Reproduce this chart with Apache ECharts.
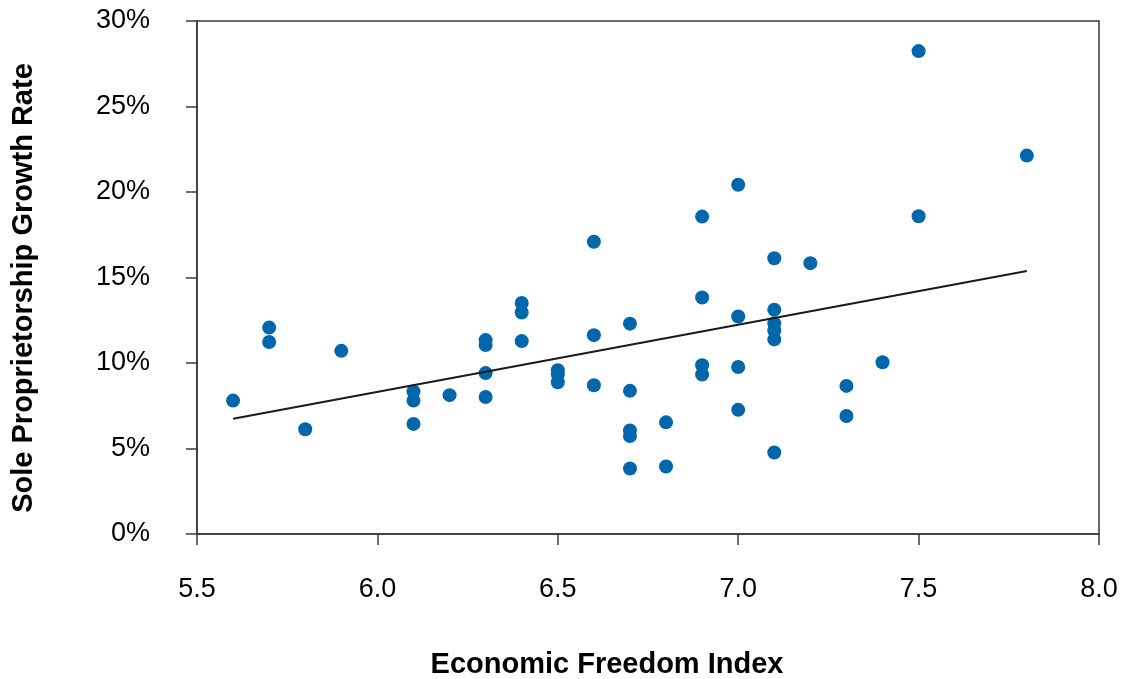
<!DOCTYPE html>
<html>
<head>
<meta charset="utf-8">
<script src="https://cdn.jsdelivr.net/npm/echarts@6/dist/echarts.min.js"></script>
<style>html,body{margin:0;padding:0;background:#fff;}#c{width:1121px;height:679px;}</style>
</head>
<body>
<div id="c"></div>
<script>
// Economic Freedom Index (x) and Sole Proprietorship Growth Rate in % (y)
const freedomIndex = [5.6,5.7,5.7,5.8,5.9,6.1,6.1,6.1,6.2,6.3,6.3,6.3,6.3,6.4,6.4,6.4,6.5,6.5,6.5,6.6,6.6,6.6,6.7,6.7,6.7,6.7,6.7,
  6.8,6.8,6.9,6.9,6.9,6.9,7.0,7.0,7.0,7.0,7.1,7.1,7.1,7.1,7.1,7.1,7.2,7.3,7.3,7.4,7.5,7.5,7.8];
const growthRate = [7.80,12.07,11.23,6.13,10.71,8.33,7.80,6.44,8.12,11.34,11.05,9.41,8.01,13.51,12.95,11.28,9.58,9.33,8.87,17.09,11.63,8.70,12.30,8.37,6.05,5.73,3.83,
  6.53,3.95,18.56,13.83,9.87,9.33,20.42,12.72,9.77,7.26,16.13,13.12,12.32,11.90,11.38,4.77,15.84,8.66,6.90,10.04,28.24,18.58,22.13];
const trendX = [5.6, 7.8];
const trendY = [6.74, 15.38];
const xTicks = {min: 5.5, max: 8.0, step: 0.5};
const yTicks = {min: 0, max: 30, step: 5};

const points = freedomIndex.map((x, i) => [x, growthRate[i]]);
const trend = trendX.map((x, i) => [x, trendY[i]]);
const font = "'Liberation Sans', Arial, sans-serif";

const chart = echarts.init(document.getElementById('c'), null, {renderer: 'canvas'});
chart.setOption({
  animation: false,
  grid: {left: 197, top: 21, right: 22, bottom: 145, show: true, borderColor: '#3a3a3a', borderWidth: 1.5, backgroundColor: 'transparent'},
  xAxis: {
    type: 'value', min: xTicks.min, max: xTicks.max, interval: xTicks.step,
    axisLine: {show: true, lineStyle: {color: '#3a3a3a', width: 1.5}},
    axisTick: {show: true, inside: false, length: 11, lineStyle: {color: '#3a3a3a', width: 1.5}},
    splitLine: {show: false},
    axisLabel: {margin: 42, color: '#000', fontSize: 27, fontFamily: font, formatter: v => v.toFixed(1)}
  },
  yAxis: {
    type: 'value', min: yTicks.min, max: yTicks.max, interval: yTicks.step,
    axisLine: {show: true, lineStyle: {color: '#3a3a3a', width: 1.5}},
    axisTick: {show: true, inside: false, length: 11, lineStyle: {color: '#3a3a3a', width: 1.5}},
    splitLine: {show: false},
    axisLabel: {margin: 47, color: '#000', fontSize: 27, fontFamily: font, formatter: v => v + '%', padding: [8, 0, 0, 0]}
  },
  graphic: [
    {type: 'text', x: 24, y: 288, rotation: Math.PI / 2,
     style: {text: 'Sole Proprietorship Growth Rate', fill: '#000', font: 'bold 29px ' + font, textAlign: 'center', textVerticalAlign: 'middle'}},
    {type: 'text', x: 607, y: 665,
     style: {text: 'Economic Freedom Index', fill: '#000', font: 'bold 29px ' + font, textAlign: 'center', textVerticalAlign: 'middle'}}
  ],
  series: [
    {type: 'scatter', data: points, symbol: 'circle', symbolSize: 14, itemStyle: {color: '#0067AC', opacity: 1}, z: 2},
    {type: 'line', data: trend, symbol: 'none', lineStyle: {color: '#1a1a1a', width: 2}, z: 3, silent: true}
  ]
});
</script>
</body>
</html>
